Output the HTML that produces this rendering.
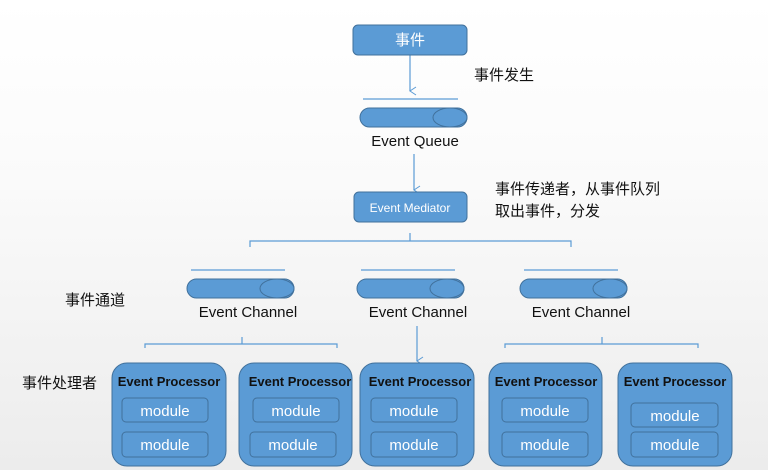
<!DOCTYPE html>
<html><head><meta charset="utf-8"><style>
html,body{margin:0;padding:0}
body{width:768px;height:470px;overflow:hidden;background:linear-gradient(#ffffff 0%,#fafafa 40%,#ececec 100%)}
svg{display:block}
text{font-family:"Liberation Sans","Noto Sans CJK SC",sans-serif}
</style></head><body>
<svg width="768" height="470" viewBox="0 0 768 470" xmlns="http://www.w3.org/2000/svg">
<defs>
<marker id="ar" markerWidth="10" markerHeight="10" refX="5" refY="8" orient="auto" markerUnits="userSpaceOnUse">
<path d="M1,2 L5,8 L9,2" fill="none" stroke="#5b9bd5" stroke-width="1"/>
</marker>
</defs>
<g stroke="#5b9bd5" stroke-width="1.2" fill="none">
<line x1="410" y1="55" x2="410" y2="91" marker-end="url(#ar)"/>
<line x1="414" y1="154" x2="414" y2="190" marker-end="url(#ar)"/>
<line x1="417" y1="326" x2="417" y2="361" marker-end="url(#ar)"/>
<line x1="363" y1="99" x2="458" y2="99"/>
<line x1="191" y1="270" x2="285" y2="270"/>
<line x1="361" y1="270" x2="455" y2="270"/>
<line x1="524" y1="270" x2="618" y2="270"/>
<path d="M250,247 V241 H571 V247 M410,233 V241"/>
<path d="M145,348 V344 H337 V348 M242,337 V344"/>
<path d="M505,348 V344 H698 V348 M602,337 V344"/>
</g>
<g fill="#5b9bd5" stroke="#41719c" stroke-width="1">
<rect x="353" y="25" width="114" height="30" rx="5"/>
<rect x="354" y="192" width="113" height="30" rx="5"/>
</g>
<text x="410" y="45" font-size="15" fill="#fff" text-anchor="middle">事件</text>
<text x="410" y="212" font-size="12" fill="#fff" text-anchor="middle">Event  Mediator</text>
<g fill="#5b9bd5" stroke="#41719c" stroke-width="1">
<rect x="360" y="108" width="107" height="19" rx="9.5"/><ellipse cx="450" cy="117.5" rx="17" ry="9.5"/>
<rect x="187" y="279" width="107" height="19" rx="9.5"/><ellipse cx="277" cy="288.5" rx="17" ry="9.5"/>
<rect x="357" y="279" width="107" height="19" rx="9.5"/><ellipse cx="447" cy="288.5" rx="17" ry="9.5"/>
<rect x="520" y="279" width="107" height="19" rx="9.5"/><ellipse cx="610" cy="288.5" rx="17" ry="9.5"/>
</g>
<g font-size="15" fill="#111" text-anchor="middle">
<text x="415" y="146">Event Queue</text>
<text x="248" y="317">Event Channel</text>
<text x="418" y="317">Event Channel</text>
<text x="581" y="317">Event Channel</text>
</g>
<g font-size="15" fill="#111">
<text x="474" y="80">事件发生</text>
<text x="495" y="194">事件传递者，从事件队列</text>
<text x="495" y="216">取出事件，分发</text>
<text x="65" y="305">事件通道</text>
<text x="22" y="388">事件处理者</text>
</g>
<g fill="#5b9bd5" stroke="#41719c" stroke-width="1">
<rect x="112" y="363" width="114" height="103" rx="15"/>
<rect x="239" y="363" width="113" height="103" rx="15"/>
<rect x="360" y="363" width="114" height="103" rx="15"/>
<rect x="489" y="363" width="113" height="103" rx="15"/>
<rect x="618" y="363" width="114" height="103" rx="15"/>
</g>
<g fill="#5b9bd5" stroke="#41719c" stroke-width="1">
<rect x="122" y="398" width="86" height="24" rx="4"/><rect x="122" y="432" width="86" height="25" rx="4"/>
<rect x="253" y="398" width="86" height="24" rx="4"/><rect x="250" y="432" width="86" height="25" rx="4"/>
<rect x="371" y="398" width="86" height="24" rx="4"/><rect x="371" y="432" width="86" height="25" rx="4"/>
<rect x="502" y="398" width="86" height="24" rx="4"/><rect x="502" y="432" width="86" height="25" rx="4"/>
<rect x="631" y="403" width="87" height="24" rx="4"/><rect x="631" y="432" width="87" height="25" rx="4"/>
</g>
<g font-size="13" font-weight="bold" fill="#111" text-anchor="middle">
<text x="169" y="386">Event Processor</text>
<text x="300" y="386">Event Processor</text>
<text x="420" y="386">Event Processor</text>
<text x="546" y="386">Event Processor</text>
<text x="675" y="386">Event Processor</text>
</g>
<g font-size="15" fill="#fff" text-anchor="middle">
<text x="165" y="416">module</text><text x="165" y="450">module</text>
<text x="296" y="416">module</text><text x="293" y="450">module</text>
<text x="414" y="416">module</text><text x="414" y="450">module</text>
<text x="545" y="416">module</text><text x="545" y="450">module</text>
<text x="675" y="421">module</text><text x="675" y="450">module</text>
</g>
</svg>
</body></html>
